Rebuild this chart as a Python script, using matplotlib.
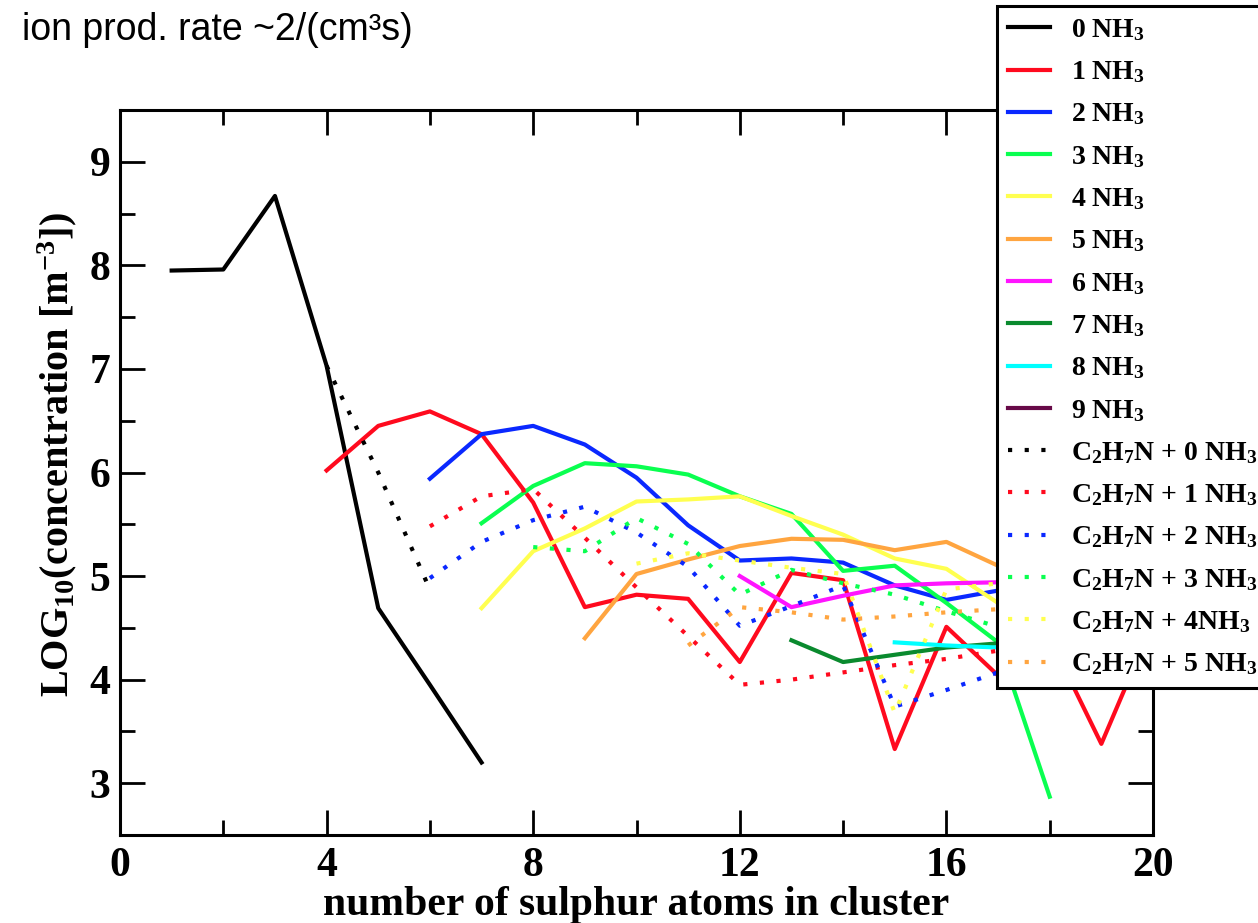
import matplotlib
matplotlib.use("Agg")
import matplotlib.pyplot as plt
from matplotlib.ticker import MultipleLocator

# cluster size (number of S atoms) and log10 concentrations per series
x_nh3_0 = [1, 2, 3, 4, 5, 6, 7]
y_nh3_0 = [7.95, 7.96, 8.67, 7.03, 4.69, 3.95, 3.20]

x_nh3_1 = [4, 5, 6, 7, 8, 9, 10, 11, 12, 13, 14, 15, 16, 17, 18, 19, 20]
y_nh3_1 = [6.02, 6.45, 6.59, 6.37, 5.71, 4.70, 4.82, 4.78, 4.17, 5.03, 4.96,
           3.33, 4.51, 4.04, 4.40, 3.38, 4.55]

x_nh3_2 = [6, 7, 8, 9, 10, 11, 12, 13, 14, 15, 16, 17]
y_nh3_2 = [5.94, 6.37, 6.45, 6.27, 5.95, 5.49, 5.15, 5.17, 5.13, 4.91, 4.77, 4.86]

x_nh3_3 = [7, 8, 9, 10, 11, 12, 13, 14, 15, 16, 17, 18]
y_nh3_3 = [5.51, 5.87, 6.09, 6.06, 5.98, 5.77, 5.60, 5.05, 5.10, 4.74, 4.36, 2.87]

x_nh3_4 = [7, 8, 9, 10, 11, 12, 13, 14, 15, 16, 17]
y_nh3_4 = [4.69, 5.24, 5.46, 5.72, 5.74, 5.77, 5.58, 5.40, 5.17, 5.07, 4.74]

x_nh3_5 = [9, 10, 11, 12, 13, 14, 15, 16, 17]
y_nh3_5 = [4.40, 5.02, 5.16, 5.29, 5.36, 5.35, 5.25, 5.33, 5.10]

x_nh3_6 = [12, 13, 14, 15, 16, 17]
y_nh3_6 = [5.00, 4.70, 4.81, 4.91, 4.93, 4.94]

x_nh3_7 = [13, 14, 15, 16, 17]
y_nh3_7 = [4.38, 4.17, 4.24, 4.31, 4.35]

x_nh3_8 = [15, 16, 17]
y_nh3_8 = [4.36, 4.33, 4.31]

x_nh3_9 = []
y_nh3_9 = []

# C2H7N (dimethylamine) containing clusters
x_dma_0 = [4, 5, 6]
y_dma_0 = [7.03, 6.00, 4.87]

x_dma_1 = [6, 7, 8, 9, 10, 11, 12, 13, 14, 15, 16, 17]
y_dma_1 = [5.48, 5.77, 5.84, 5.37, 4.89, 4.42, 3.95, 4.00, 4.07, 4.14, 4.20, 4.28]

x_dma_2 = [6, 7, 8, 9, 10, 11, 12, 13, 14, 15, 16, 17]
y_dma_2 = [4.98, 5.33, 5.54, 5.67, 5.42, 5.09, 4.52, 4.71, 4.91, 3.74, 3.90, 4.07]

x_dma_3 = [8, 9, 10, 11, 12, 13, 14, 15, 16, 17]
y_dma_3 = [5.28, 5.24, 5.56, 5.31, 4.82, 5.06, 4.93, 4.82, 4.66, 4.51]

x_dma_4 = [10, 11, 12, 13, 14, 15, 16, 17]
y_dma_4 = [5.12, 5.22, 5.15, 5.08, 5.02, 3.68, 4.87, 4.93]

x_dma_5 = [11, 12, 13, 14, 15, 16, 17]
y_dma_5 = [4.33, 4.70, 4.65, 4.58, 4.61, 4.65, 4.68]

colors = ["#000000", "#ff0a1e", "#0a28ff", "#0aff50", "#ffff50",
          "#ffa540", "#ff14ff", "#0a8a2e", "#00ffff", "#670a48"]

solid = [
    (x_nh3_0, y_nh3_0), (x_nh3_1, y_nh3_1), (x_nh3_2, y_nh3_2),
    (x_nh3_3, y_nh3_3), (x_nh3_4, y_nh3_4), (x_nh3_5, y_nh3_5),
    (x_nh3_6, y_nh3_6), (x_nh3_7, y_nh3_7), (x_nh3_8, y_nh3_8),
    (x_nh3_9, y_nh3_9),
]
dotted = [
    (x_dma_0, y_dma_0), (x_dma_1, y_dma_1), (x_dma_2, y_dma_2),
    (x_dma_3, y_dma_3), (x_dma_4, y_dma_4), (x_dma_5, y_dma_5),
]

plt.rcParams["font.family"] = ["Liberation Serif", "DejaVu Serif"]
plt.rcParams["font.weight"] = "bold"
plt.rcParams["mathtext.fontset"] = "custom"
plt.rcParams["mathtext.rm"] = "Liberation Serif:bold"
plt.rcParams["mathtext.bf"] = "Liberation Serif:bold"
plt.rcParams["mathtext.it"] = "Liberation Serif:bold"
plt.rcParams["mathtext.default"] = "bf"

fig = plt.figure(figsize=(12.58, 9.23), dpi=100)
ax = fig.add_axes([120 / 1258, 1 - 835 / 923, 1033 / 1258, 725 / 923])

for i, (xs, ys) in enumerate(solid):
    ax.plot(xs, ys, color=colors[i], lw=3, label=f"{i} NH$_3$")

dma_labels = ["C$_2$H$_7$N + 0 NH$_3$", "C$_2$H$_7$N + 1 NH$_3$",
              "C$_2$H$_7$N + 2 NH$_3$", "C$_2$H$_7$N + 3 NH$_3$",
              "C$_2$H$_7$N + 4NH$_3$", "C$_2$H$_7$N + 5 NH$_3$"]
for i, (xs, ys) in enumerate(dotted):
    ax.plot(xs, ys, color=colors[i], lw=3, ls=(0, (1, 3)),
            dash_capstyle="butt", label=dma_labels[i])

ax.set_xlim(0, 20)
ax.set_ylim(2.5, 9.5)
ax.xaxis.set_major_locator(MultipleLocator(4))
ax.xaxis.set_minor_locator(MultipleLocator(2))
ax.yaxis.set_major_locator(MultipleLocator(1))
ax.yaxis.set_minor_locator(MultipleLocator(0.5))
ax.set_yticks([3, 4, 5, 6, 7, 8, 9])
ax.tick_params(which="both", direction="in", top=True, right=True,
               width=2, labelsize=30)
ax.tick_params(axis="y", pad=7)
ax.tick_params(axis="x", pad=9)
ax.tick_params(which="major", length=18)
ax.tick_params(which="minor", length=11)
for sp in ax.spines.values():
    sp.set_linewidth(2.2)

ax.set_xlabel("number of sulphur atoms in cluster", fontsize=30,
              fontweight="bold", labelpad=0)
ax.set_ylabel("LOG$_{10}$(concentration [m$^{-3}$])", fontsize=29,
              fontweight="bold")
ax.yaxis.set_label_coords(-0.04, 0.524)

# legend sits partly outside the figure, as in the original
leg = ax.legend(loc="upper left", bbox_to_anchor=(997 / 1258, 1 - 6 / 923),
                bbox_transform=fig.transFigure, borderaxespad=0,
                fontsize=20, frameon=True, fancybox=False, framealpha=1,
                handlelength=1.5, handletextpad=0.75, labelspacing=0.59,
                borderpad=0.4)
leg.get_frame().set_edgecolor("black")
leg.get_frame().set_linewidth(2.2)
leg.set_zorder(10)

fig.text(22 / 1258, 1 - 40 / 923, "ion prod. rate ~2/(cm³s)",
         family="Liberation Sans", fontweight="normal", fontsize=27)

fig.savefig("out.png", dpi=100)
